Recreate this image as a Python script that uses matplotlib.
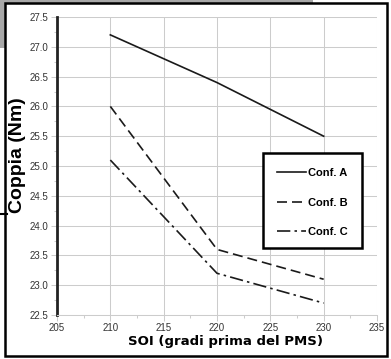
import matplotlib
matplotlib.use("Agg")
import matplotlib.pyplot as plt
from matplotlib.patches import Rectangle
from matplotlib.lines import Line2D
from matplotlib.ticker import MultipleLocator, FormatStrFormatter

# data
soi = [210, 220, 230]
conf_a = [27.2, 26.4, 25.5]
conf_b = [26.0, 23.6, 23.1]
conf_c = [25.1, 23.2, 22.7]
labels = ["Conf. A", "Conf. B", "Conf. C"]

W, H = 391, 359
fig = plt.figure(figsize=(W / 100, H / 100), dpi=100)

# scan leftovers round the frame
fig.patches.append(Rectangle((0, 1 - 3 / H), 313 / W, 3 / H, transform=fig.transFigure,
                             facecolor="#a8a8a8", edgecolor="none"))
fig.patches.append(Rectangle((0, 1 - 48 / H), 5 / W, 48 / H, transform=fig.transFigure,
                             facecolor="#a8a8a8", edgecolor="none"))
fig.lines.append(Line2D([0, 7 / W], [1 - 214 / H] * 2, transform=fig.transFigure,
                        color="black", lw=1.5))
# outer frame
fig.patches.append(Rectangle((5 / W, 3 / H), 382 / W, 353 / H, transform=fig.transFigure,
                             facecolor="none", edgecolor="black", lw=1.8))

ax = fig.add_axes([57 / W, 1 - 315 / H, 320 / W, 298 / H])

lc = "#1a1a1a"
lines = []
lines += ax.plot(soi, conf_a, color=lc, lw=1.2, ls="-")
lines += ax.plot(soi, conf_b, color=lc, lw=1.2, ls=(0, (6, 3)))
lines += ax.plot(soi, conf_c, color=lc, lw=1.2, ls=(0, (8, 2.5, 1.5, 2.5)))

ax.set_xlim(205, 235)
ax.set_ylim(22.5, 27.5)
ax.xaxis.set_major_locator(MultipleLocator(5))
ax.xaxis.set_minor_locator(MultipleLocator(2.5))
ax.yaxis.set_major_locator(MultipleLocator(0.5))
ax.yaxis.set_minor_locator(MultipleLocator(0.25))
ax.yaxis.set_major_formatter(FormatStrFormatter("%.1f"))

gc = "#cccccc"
ax.grid(True, which="major", color=gc, lw=0.75)
ax.set_axisbelow(True)
for s in ["top", "right"]:
    ax.spines[s].set_visible(False)
ax.spines["bottom"].set_color(gc)
ax.spines["bottom"].set_linewidth(0.75)
ax.spines["left"].set_color("#222222")
ax.spines["left"].set_linewidth(2.0)

ax.tick_params(which="both", direction="out", color=gc, width=0.75)
ax.tick_params(which="major", length=4, labelsize=7, pad=2)
ax.tick_params(which="minor", length=2.5)
for t in ax.get_xticklabels() + ax.get_yticklabels():
    t.set_fontfamily("Liberation Sans")
    t.set_color("#333333")

ax.set_ylabel("Coppia (Nm)", fontfamily="Liberation Sans", fontweight="bold",
              fontsize=14)
ax.yaxis.set_label_coords(-0.098, 0.535)
ax.set_xlabel("SOI (gradi prima del PMS)", fontfamily="DejaVu Sans", fontweight="bold",
              fontsize=9.5)
ax.xaxis.set_label_coords(0.528, -0.066)

# legend box: white panel with a heavy border, entries on top of it
fig.patches.append(Rectangle((263 / W, 1 - 248 / H), 99 / W, 95 / H,
                             transform=fig.transFigure, facecolor="white",
                             edgecolor="black", lw=1.8, zorder=2))
leg = fig.legend(lines, labels, loc="upper left", bbox_to_anchor=(265 / W, 1 - 156 / H),
                 frameon=False,
                 prop={"family": "Liberation Sans", "weight": "bold", "size": 8},
                 handlelength=2.6, handletextpad=0.2, labelspacing=1.75,
                 borderpad=1.1, borderaxespad=0)
leg.set_zorder(5)

fig.savefig("out.png", dpi=100)
